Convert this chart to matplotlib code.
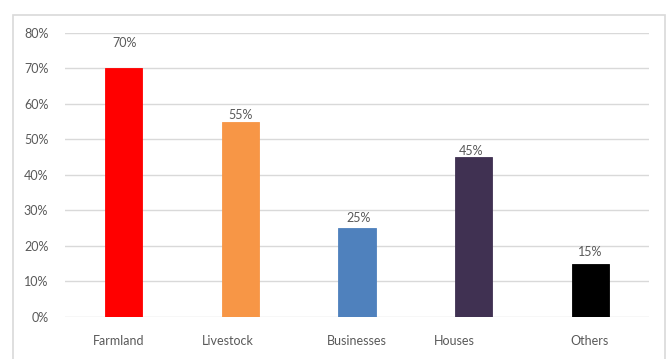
import matplotlib.pyplot as plt
import matplotlib.transforms as mtransforms
from matplotlib.patches import Rectangle
from matplotlib.ticker import PercentFormatter

categories = ['Farmland', 'Livestock', 'Businesses', 'Houses', 'Others']
values = [0.70, 0.55, 0.25, 0.45, 0.15]
bar_colors = ['#FF0000', '#F79646', '#4F81BD', '#403152', '#000000']
value_labels = ['70%', '55%', '25%', '45%', '15%']

# nudges (in pixels) as placed in the original chart
tick_dx = [-4.5, -12, 0, -19.5, -1.5]
label_dy = [25, 7, 10, 6, 12]
label_dx = [1.5, 0, 1.5, -2.5, -0.5]

plt.rcParams['font.family'] = ['Lato', 'DejaVu Sans']
text_col = '#595959'
grid_col = '#D9D9D9'

fig = plt.figure(figsize=(6.68, 3.59), dpi=100)
W, H = 668, 359
ax = fig.add_axes([65 / W, 1 - 316.7 / H, 584 / W, (316.7 - 33) / H])

# outer chart frame
fig.patches.append(Rectangle((13 / W, -0.2), 652 / W, 1.2 - 15 / H,
                             transform=fig.transFigure, fill=False,
                             edgecolor=grid_col, linewidth=1.2))

x = list(range(len(categories)))
ax.bar(x, values, width=0.32, color=bar_colors, edgecolor=bar_colors,
       linewidth=0.6, zorder=3)

for i, v in enumerate(values):
    off = mtransforms.offset_copy(ax.transData, fig=fig,
                                  x=label_dx[i], y=label_dy[i], units='dots')
    ax.text(x[i], v, value_labels[i], transform=off, ha='center', va='center',
            fontsize=9, color=text_col)

# category labels drawn as text so they can keep their nudges
xaxis_tr = ax.get_xaxis_transform()
for i, name in enumerate(categories):
    off = mtransforms.offset_copy(xaxis_tr, fig=fig, x=tick_dx[i], y=-24,
                                  units='dots')
    ax.text(x[i], 0, name, transform=off, ha='center', va='center',
            fontsize=9, color=text_col, clip_on=False)

ax.set_xlim(-0.5, len(categories) - 0.5)
ax.set_ylim(0, 0.8)
ax.set_yticks([i / 10 for i in range(9)])
ax.yaxis.set_major_formatter(PercentFormatter(1.0, decimals=0))
ax.set_xticks(x)
ax.set_xticklabels([])

ax.tick_params(axis='both', length=0, labelsize=9, labelcolor=text_col)
ax.tick_params(axis='y', pad=12)
ax.grid(axis='y', color=grid_col, linewidth=1, zorder=0)
ax.grid(axis='x', visible=False)
for s in ax.spines.values():
    s.set_visible(False)

fig.savefig('out.png', dpi=100)
